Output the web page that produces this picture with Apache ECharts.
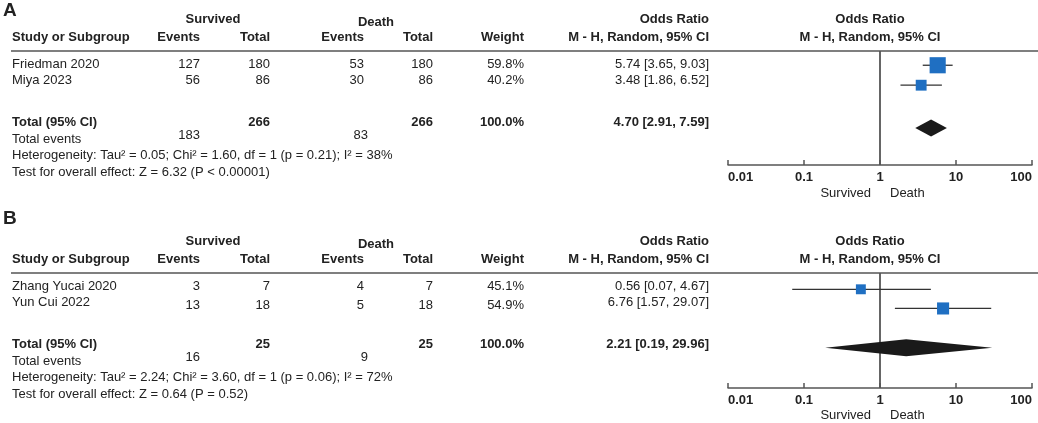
<!DOCTYPE html>
<html>
<head>
    <meta charset="utf-8">
    <script type="text/javascript" src="https://cdn.jsdelivr.net/npm/echarts@6/dist/echarts.min.js"></script>
    <style type="text/css">
        *{
            margin: 0;
            padding: 0;
        }
        body{
            background: #fff;
        }
        #main{
            width: 1038px;
            height: 423px;
        }
    </style>
</head>
<body>
<div id="main"></div>
<script type="text/javascript">

    // ---- data, panel A ----
    var studiesA = ['Friedman 2020', 'Miya 2023'];
    var survEventsA = [127, 56];
    var survTotalA = [180, 86];
    var deathEventsA = [53, 30];
    var deathTotalA = [180, 86];
    var weightA = [59.8, 40.2];
    var orA = [5.74, 3.48];
    var loA = [3.65, 1.86];
    var hiA = [9.03, 6.52];
    var pooledA = [4.70, 2.91, 7.59];
    var sumTotalsA = [266, 266];
    var sumEventsA = [183, 83];
    var hetA = 'Heterogeneity: Tau\u00b2 = 0.05; Chi\u00b2 = 1.60, df = 1 (p = 0.21); I\u00b2 = 38%';
    var testA = 'Test for overall effect: Z = 6.32 (P < 0.00001)';

    // ---- data, panel B ----
    var studiesB = ['Zhang Yucai 2020', 'Yun Cui 2022'];
    var survEventsB = [3, 13];
    var survTotalB = [7, 18];
    var deathEventsB = [4, 5];
    var deathTotalB = [7, 18];
    var weightB = [45.1, 54.9];
    var orB = [0.56, 6.76];
    var loB = [0.07, 1.57];
    var hiB = [4.67, 29.07];
    var pooledB = [2.21, 0.19, 29.96];
    var sumTotalsB = [25, 25];
    var sumEventsB = [16, 9];
    var hetB = 'Heterogeneity: Tau\u00b2 = 2.24; Chi\u00b2 = 3.60, df = 1 (p = 0.06); I\u00b2 = 72%';
    var testB = 'Test for overall effect: Z = 0.64 (P = 0.52)';

    var tickLabels = ['0.01', '0.1', '1', '10', '100'];
    var sideLabels = ['Survived', 'Death'];

    var FONT = '"Liberation Sans", Arial, sans-serif';
    var TXT = '#222';
    var BLUE = '#1f6fc2';
    var FS = 13;

    function fmt2(v) { return v.toFixed(2); }
    function ciText(o, l, h) { return fmt2(o) + ' [' + fmt2(l) + ', ' + fmt2(h) + ']'; }

    function txt(x, y, s, align, bold, size) {
        return {
            type: 'text', x: x, y: y, silent: true,
            style: {
                text: s, fill: TXT, font: (bold ? 'bold ' : '') + (size || FS) + 'px ' + FONT,
                textAlign: align || 'left', textVerticalAlign: 'middle'
            }
        };
    }

    // builds the table text for one panel; dy = vertical offset of panel
    function tableGraphics(p, dy) {
        var g = [];
        g.push(txt(3, p.letterY, p.letter, 'left', true, 19));
        g.push(txt(213, 19 + dy, 'Survived', 'center', true));
        g.push(txt(376, 22 + dy, 'Death', 'center', true));
        g.push(txt(709, 19 + dy, 'Odds Ratio', 'right', true));
        g.push(txt(870, 19 + dy, 'Odds Ratio', 'center', true));
        var h = 37 + dy;
        g.push(txt(12, h, 'Study or Subgroup', 'left', true));
        g.push(txt(200, h, 'Events', 'right', true));
        g.push(txt(270, h, 'Total', 'right', true));
        g.push(txt(364, h, 'Events', 'right', true));
        g.push(txt(433, h, 'Total', 'right', true));
        g.push(txt(524, h, 'Weight', 'right', true));
        g.push(txt(709, h, 'M - H, Random, 95% CI', 'right', true));
        g.push(txt(870, h, 'M - H, Random, 95% CI', 'center', true));
        g.push({
            type: 'line', silent: true,
            shape: {x1: 11, y1: 51 + dy, x2: 1038, y2: 51 + dy},
            style: {stroke: '#555', lineWidth: 1.6}
        });
        for (var i = 0; i < p.studies.length; i++) {
            var y = 64 + i * 16 + dy;
            g.push(txt(12, y, p.studies[i]));
            g.push(txt(200, y + i * p.shift, String(p.se[i]), 'right'));
            g.push(txt(270, y + i * p.shift, String(p.st[i]), 'right'));
            g.push(txt(364, y + i * p.shift, String(p.de[i]), 'right'));
            g.push(txt(433, y + i * p.shift, String(p.dt[i]), 'right'));
            g.push(txt(524, y + i * p.shift, p.w[i].toFixed(1) + '%', 'right'));
            g.push(txt(709, y, ciText(p.or[i], p.lo[i], p.hi[i]), 'right'));
        }
        var t = 122 + dy;
        g.push(txt(12, t, 'Total (95% CI)', 'left', true));
        g.push(txt(270, t, String(p.tot[0]), 'right', true));
        g.push(txt(433, t, String(p.tot[1]), 'right', true));
        g.push(txt(524, t, '100.0%', 'right', true));
        g.push(txt(709, t, ciText(p.pooled[0], p.pooled[1], p.pooled[2]), 'right', true));
        g.push(txt(12, 139 + dy, 'Total events'));
        g.push(txt(200, 135 + dy, String(p.ev[0]), 'right'));
        g.push(txt(368, 135 + dy, String(p.ev[1]), 'right'));
        g.push(txt(12, 155 + dy, p.het));
        g.push(txt(12, 172 + dy, p.test));
        // favours labels under axis
        g.push(txt(871, 193 + dy, sideLabels[0], 'right'));
        g.push(txt(890, 193 + dy, sideLabels[1], 'left'));
        return g;
    }

    var panels = [
        {letter: 'A', letterY: 11, studies: studiesA, se: survEventsA, st: survTotalA, de: deathEventsA,
            dt: deathTotalA, w: weightA, or: orA, lo: loA, hi: hiA, pooled: pooledA, tot: sumTotalsA,
            ev: sumEventsA, het: hetA, test: testA, shift: 0, sizeScale: 0.27, rows: [0.75, 1.8, 4.05]},
        {letter: 'B', letterY: 219, studies: studiesB, se: survEventsB, st: survTotalB, de: deathEventsB,
            dt: deathTotalB, w: weightB, or: orB, lo: loB, hi: hiB, pooled: pooledB, tot: sumTotalsB,
            ev: sumEventsB, het: hetB, test: testB, shift: 3, sizeScale: 0.22, rows: [0.85, 1.85, 3.9]}
    ];
    var offsets = [0, 222];

    var graphics = [];
    panels.forEach(function (p, k) {
        graphics = graphics.concat(tableGraphics(p, offsets[k]));
    });

    function forestRender(params, api) {
        var est = api.value(0), lo = api.value(1), hi = api.value(2), row = api.value(3);
        var size = api.value(4);
        var c = api.coord([est, row]);
        var l = api.coord([lo, row]);
        var h = api.coord([hi, row]);
        if (size < 0) {
            // pooled diamond
            var hh = 8.5;
            return {
                type: 'polygon',
                shape: {points: [[l[0], c[1]], [c[0], c[1] - hh], [h[0], c[1]], [c[0], c[1] + hh]]},
                style: {fill: '#1a1a1a'}
            };
        }
        return {
            type: 'group',
            children: [
                {type: 'line', shape: {x1: l[0], y1: c[1], x2: h[0], y2: c[1]},
                    style: {stroke: '#333', lineWidth: 1.3}},
                {type: 'rect', shape: {x: c[0] - size / 2, y: c[1] - size / 2, width: size, height: size},
                    style: {fill: BLUE}}
            ]
        };
    }

    var grids = [], xAxes = [], yAxes = [], series = [];
    panels.forEach(function (p, k) {
        var dy = offsets[k];
        grids.push({left: 728, right: 6, top: 51 + dy, height: 114 + (k ? 1 : 0)});
        xAxes.push({
            type: 'log', logBase: 10, min: 0.01, max: 100, gridIndex: k, position: 'bottom',
            axisLine: {onZero: false, lineStyle: {color: '#555', width: 1.5}},
            axisTick: {inside: true, length: 5, lineStyle: {color: '#555', width: 1.5}},
            minorTick: {show: false},
            splitLine: {show: false},
            axisLabel: {
                color: TXT, fontWeight: 'bold', fontSize: FS, fontFamily: FONT, margin: 6,
                alignMinLabel: 'left', alignMaxLabel: 'right',
                formatter: function (v) { return tickLabels[Math.round(Math.log10(v)) + 2]; }
            }
        });
        yAxes.push({type: 'value', min: 0, max: 6, inverse: true, show: false, gridIndex: k});
        var rowsData = [];
        for (var i = 0; i < p.studies.length; i++) {
            rowsData.push([p.or[i], p.lo[i], p.hi[i], p.rows[i], p.w[i] * p.sizeScale]);
        }
        rowsData.push([p.pooled[0], p.pooled[1], p.pooled[2], p.rows[2], -1]);
        series.push({
            type: 'line', xAxisIndex: k, yAxisIndex: k, silent: true, symbol: 'none',
            data: [[1, 0], [1, 6]],
            lineStyle: {color: '#555', width: 1.8}, z: 1
        });
        series.push({
            type: 'custom', xAxisIndex: k, yAxisIndex: k, silent: true,
            renderItem: forestRender,
            encode: {x: [0, 1, 2], y: 3},
            data: rowsData, z: 3
        });
    });

    var myChart = echarts.init(document.getElementById('main'));
    var option = {
        backgroundColor: '#fff',
        animation: false,
        grid: grids,
        xAxis: xAxes,
        yAxis: yAxes,
        series: series,
        graphic: graphics
    };
    myChart.setOption(option);

</script>
</body>
</html>
